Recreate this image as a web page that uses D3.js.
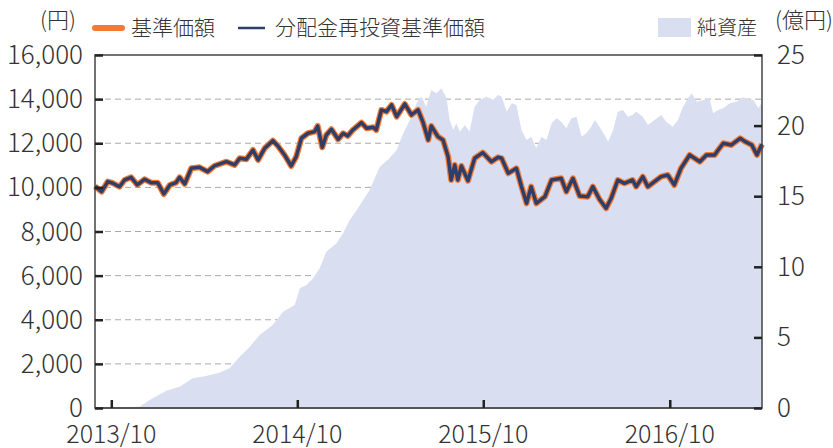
<!DOCTYPE html>
<html>
<head>
<meta charset="utf-8">
<script src="https://cdn.jsdelivr.net/npm/d3@7"></script>
<style>
  body { margin: 0; background: #fff; }
  svg text { font-family: "Noto Sans CJK JP", "Noto Sans", sans-serif; font-weight: 300; fill: #333; }
</style>
</head>
<body>
<svg id="chart" width="833" height="448"></svg>
<script>
// 基準価額 (円)
const priceDates = ["2013-08-30","2013-09-12","2013-09-24","2013-10-03","2013-10-17","2013-10-27","2013-11-09","2013-11-21","2013-12-05","2013-12-18","2013-12-31","2014-01-12","2014-01-24","2014-02-05","2014-02-12","2014-02-22","2014-03-07","2014-03-23","2014-04-08","2014-04-21","2014-05-15","2014-05-31","2014-06-10","2014-06-23","2014-07-06","2014-07-16","2014-07-29","2014-08-14","2014-08-24","2014-09-06","2014-09-19","2014-09-29","2014-10-09","2014-10-22","2014-11-04","2014-11-10","2014-11-19","2014-11-27","2014-12-07","2014-12-20","2014-12-30","2015-01-08","2015-01-18","2015-02-04","2015-02-14","2015-02-27","2015-03-05","2015-03-15","2015-03-25","2015-04-04","2015-04-14","2015-04-30","2015-05-13","2015-05-26","2015-06-05","2015-06-15","2015-06-21","2015-07-04","2015-07-14","2015-07-24","2015-07-30","2015-08-06","2015-08-12","2015-08-19","2015-09-01","2015-09-14","2015-09-30","2015-10-17","2015-10-30","2015-11-06","2015-11-19","2015-12-05","2015-12-15","2015-12-25","2016-01-03","2016-01-13","2016-01-30","2016-02-12","2016-03-02","2016-03-12","2016-03-25","2016-04-07","2016-04-23","2016-05-03","2016-05-16","2016-05-29","2016-06-08","2016-06-21","2016-07-04","2016-07-20","2016-07-27","2016-08-09","2016-08-19","2016-09-01","2016-09-14","2016-09-27","2016-10-10","2016-10-23","2016-11-09","2016-11-29","2016-12-12","2016-12-28","2017-01-04","2017-01-14","2017-01-30","2017-02-16","2017-02-26","2017-03-11","2017-03-21","2017-03-31"];
const priceValues = [10050,9805,10260,10200,10030,10335,10457,10109,10367,10215,10215,9700,10108,10215,10457,10155,10866,10910,10713,10970,11165,11015,11318,11273,11695,11242,11771,12117,11877,11469,10970,11393,12226,12453,12525,12783,11818,12375,12633,12180,12453,12330,12602,12933,12678,12723,12602,13509,13432,13736,13206,13781,13282,13509,12933,12150,12783,12300,12150,11393,10335,11015,10335,10970,10304,11318,11574,11165,11364,11318,10638,10865,10032,9278,10032,9278,9580,10335,10411,9806,10411,9610,9580,10032,9459,9052,9504,10335,10184,10335,10032,10486,10032,10260,10486,10562,10109,10866,11469,11165,11469,11469,11695,11998,11922,12225,12073,11922,11469,11950];
// 分配金再投資基準価額 (円) — no distributions paid, so it matches 基準価額
const reinvestValues = [10050,9805,10260,10200,10030,10335,10457,10109,10367,10215,10215,9700,10108,10215,10457,10155,10866,10910,10713,10970,11165,11015,11318,11273,11695,11242,11771,12117,11877,11469,10970,11393,12226,12453,12525,12783,11818,12375,12633,12180,12453,12330,12602,12933,12678,12723,12602,13509,13432,13736,13206,13781,13282,13509,12933,12150,12783,12300,12150,11393,10335,11015,10335,10970,10304,11318,11574,11165,11364,11318,10638,10865,10032,9278,10032,9278,9580,10335,10411,9806,10411,9610,9580,10032,9459,9052,9504,10335,10184,10335,10032,10486,10032,10260,10486,10562,10109,10866,11469,11165,11469,11469,11695,11998,11922,12225,12073,11922,11469,11950];

// 純資産 (億円)
const assetDates = ["2013-08-30","2013-10-02","2013-11-25","2013-12-21","2014-01-17","2014-02-12","2014-03-10","2014-04-05","2014-05-01","2014-05-21","2014-06-10","2014-06-30","2014-07-19","2014-08-14","2014-09-03","2014-09-26","2014-10-06","2014-10-19","2014-11-01","2014-11-14","2014-11-27","2014-12-17","2014-12-30","2015-01-12","2015-01-28","2015-02-20","2015-03-12","2015-03-31","2015-04-14","2015-04-27","2015-05-10","2015-05-26","2015-06-02","2015-06-11","2015-06-21","2015-07-01","2015-07-11","2015-07-21","2015-07-27","2015-08-03","2015-08-09","2015-08-16","2015-08-26","2015-09-04","2015-09-14","2015-09-24","2015-10-07","2015-10-20","2015-10-30","2015-11-06","2015-11-16","2015-11-26","2015-12-05","2015-12-15","2015-12-25","2016-01-03","2016-01-13","2016-01-23","2016-02-02","2016-02-12","2016-02-22","2016-03-02","2016-03-12","2016-03-22","2016-04-01","2016-04-11","2016-04-20","2016-04-30","2016-05-07","2016-05-16","2016-05-26","2016-06-02","2016-06-12","2016-06-21","2016-07-01","2016-07-11","2016-07-20","2016-07-27","2016-08-09","2016-08-19","2016-09-01","2016-09-14","2016-09-24","2016-10-07","2016-10-17","2016-10-27","2016-11-06","2016-11-13","2016-11-23","2016-12-05","2016-12-18","2016-12-25","2017-01-04","2017-01-14","2017-01-27","2017-02-09","2017-02-22","2017-03-04","2017-03-14","2017-03-24","2017-03-31"];
const assetValues = [0,0.05,0.09,0.69,1.23,1.51,2.10,2.27,2.50,2.81,3.63,4.34,5.17,5.88,6.82,7.29,8.48,8.71,9.19,9.89,11.07,11.66,12.37,13.31,14.14,15.44,17.09,17.68,18.27,19.45,20.40,21.81,22.05,21.34,22.52,22.29,22.64,21.93,20.40,19.69,20.16,19.57,20.04,19.57,21.34,21.81,22.05,21.81,22.17,22.05,20.98,21.58,21.46,19.69,18.98,19.21,18.39,19.21,18.98,20.16,20.52,20.28,19.81,20.52,20.63,19.21,19.45,19.92,20.40,19.92,19.33,18.86,19.69,20.98,21.10,20.63,20.75,20.98,20.63,20.04,20.40,20.75,20.28,19.92,20.40,21.34,21.93,22.29,21.69,21.81,21.93,20.87,21.10,21.22,21.58,21.69,22.00,21.86,21.81,21.22,21.69];

const leftTicks = [0, 2000, 4000, 6000, 8000, 10000, 12000, 14000, 16000];
const rightTicks = [0, 5, 10, 15, 20, 25];
const xTickDates = ["2013-10-01", "2014-10-01", "2015-10-01", "2016-10-01"];

const parse = d3.timeParse("%Y-%m-%d");
const svg = d3.select("#chart");
const m = { left: 95, right: 762, top: 55, bottom: 408 };

const x = d3.scaleTime()
  .domain([parse("2013-08-30"), parse("2017-03-31")])
  .range([m.left, m.right]);
const yL = d3.scaleLinear().domain([0, 16000]).range([m.bottom, m.top]);
const yR = d3.scaleLinear().domain([0, 25]).range([m.bottom, m.top]);

const price = priceDates.map((d, i) => ({ date: parse(d), v: priceValues[i], r: reinvestValues[i] }));
const assets = assetDates.map((d, i) => ({ date: parse(d), v: assetValues[i] }));

// grid
svg.append("g")
  .selectAll("line")
  .data(leftTicks.filter(t => t > 0 && t < 16000))
  .join("line")
  .attr("x1", m.left).attr("x2", m.right)
  .attr("y1", d => yL(d)).attr("y2", d => yL(d))
  .attr("stroke", "#aaa")
  .attr("stroke-width", 1)
  .attr("stroke-dasharray", "6,4");

// net assets area
svg.append("path")
  .datum(assets)
  .attr("fill", "#d9def0")
  .attr("d", d3.area().x(d => x(d.date)).y0(m.bottom).y1(d => yR(d.v)));

// lines
svg.append("path")
  .datum(price)
  .attr("fill", "none")
  .attr("stroke", "#f27a35")
  .attr("stroke-width", 6)
  .attr("stroke-linejoin", "round")
  .attr("d", d3.line().x(d => x(d.date)).y(d => yL(d.v)));

svg.append("path")
  .datum(price)
  .attr("fill", "none")
  .attr("stroke", "#2f3e69")
  .attr("stroke-width", 3.5)
  .attr("stroke-linejoin", "round")
  .attr("d", d3.line().x(d => x(d.date)).y(d => yL(d.r)));

// frame
svg.append("rect")
  .attr("x", m.left).attr("y", m.top)
  .attr("width", m.right - m.left).attr("height", m.bottom - m.top)
  .attr("fill", "none").attr("stroke", "#444").attr("stroke-width", 1.5);
svg.append("line")
  .attr("x1", m.left).attr("x2", m.right)
  .attr("y1", m.bottom).attr("y2", m.bottom)
  .attr("stroke", "#555").attr("stroke-width", 2);

// axes
const axL = svg.append("g")
  .attr("transform", `translate(${m.left},0)`)
  .call(d3.axisRight(yL).tickValues(leftTicks).tickSize(8).tickFormat(""));
const axR = svg.append("g")
  .attr("transform", `translate(${m.right},0)`)
  .call(d3.axisLeft(yR).tickValues(rightTicks).tickSize(8).tickFormat(""));
const axB = svg.append("g")
  .attr("transform", `translate(0,${m.bottom})`)
  .call(d3.axisTop(x).tickValues(xTickDates.map(parse)).tickSize(8).tickFormat(""));
[axL, axR, axB].forEach(g => {
  g.select(".domain").remove();
  g.selectAll(".tick line").attr("stroke", "#222").attr("stroke-width", 2.5);
});

svg.append("g").selectAll("text")
  .data(leftTicks).join("text")
  .attr("x", 83).attr("y", d => yL(d) + 9)
  .attr("text-anchor", "end")
  .style("font-size", "26px")
  .text(d3.format(","));

svg.append("g").selectAll("text")
  .data(rightTicks).join("text")
  .attr("x", 777).attr("y", d => yR(d) + 9)
  .style("font-size", "26px")
  .text(d => d);

svg.append("g").selectAll("text")
  .data(xTickDates).join("text")
  .attr("x", d => x(parse(d))).attr("y", 443)
  .attr("text-anchor", "middle")
  .style("font-size", "25px")
  .text(d => d.slice(0, 7).replace("-", "/"));

// units and legend
svg.append("text").attr("x", 40).attr("y", 28).style("font-size", "22px").text("(円)");
svg.append("text").attr("x", 775).attr("y", 28).style("font-size", "22px").text("(億円)");

svg.append("line").attr("x1", 95).attr("x2", 122).attr("y1", 28).attr("y2", 28)
  .attr("stroke", "#f27a35").attr("stroke-width", 6).attr("stroke-linecap", "round");
svg.append("text").attr("x", 131).attr("y", 35).style("font-size", "21px").text("基準価額");

svg.append("line").attr("x1", 238).attr("x2", 265).attr("y1", 28).attr("y2", 28)
  .attr("stroke", "#2f3e69").attr("stroke-width", 2.5);
svg.append("text").attr("x", 275).attr("y", 35).style("font-size", "21px").text("分配金再投資基準価額");

svg.append("rect").attr("x", 658).attr("y", 18).attr("width", 33).attr("height", 19).attr("fill", "#d9def0");
svg.append("text").attr("x", 697).attr("y", 35).style("font-size", "20px").text("純資産");
</script>
</body>
</html>
